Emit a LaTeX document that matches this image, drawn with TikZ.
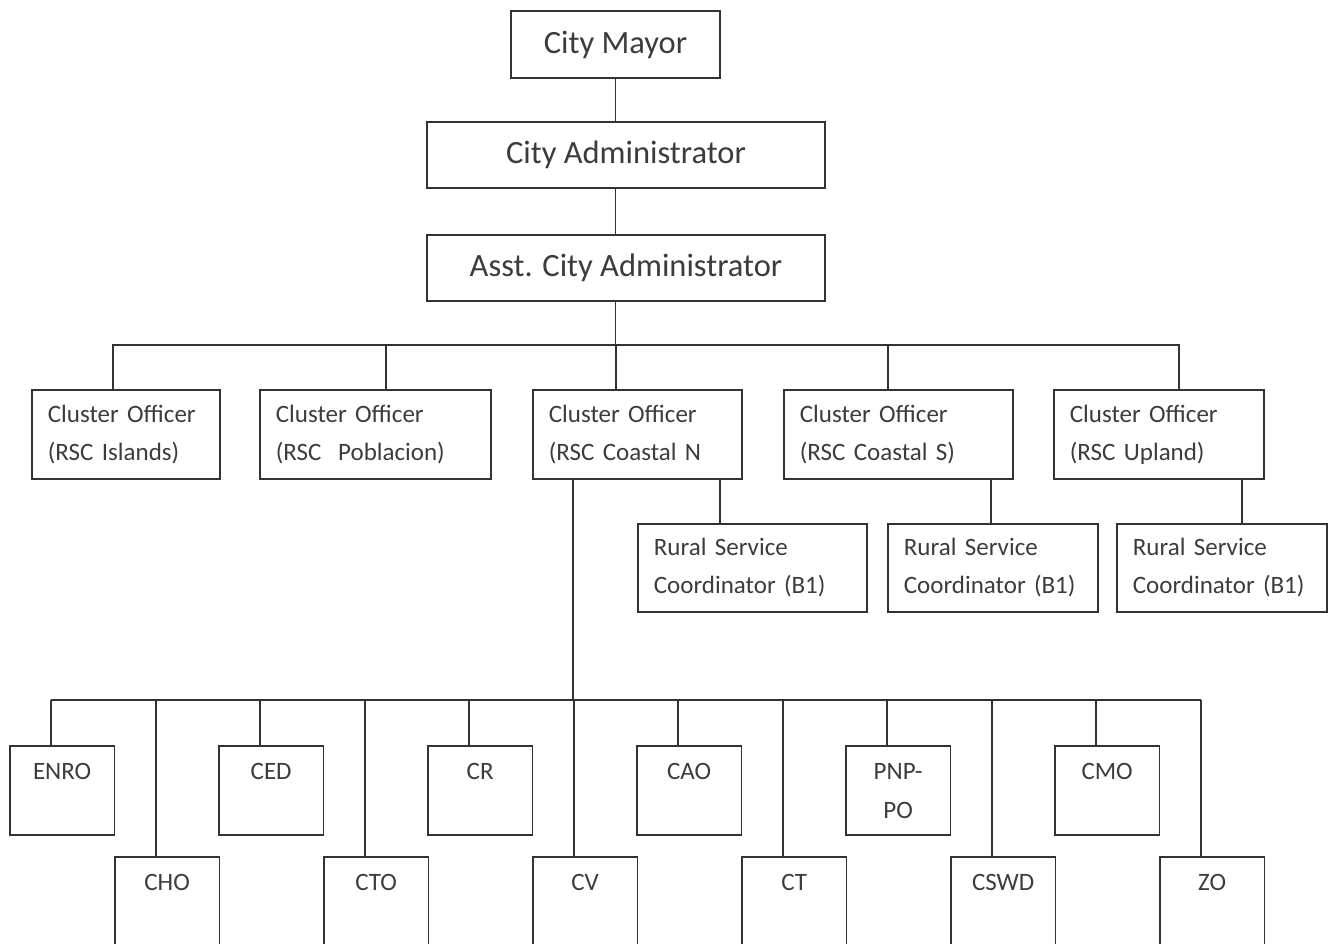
\documentclass[tikz,border=0pt]{standalone}
\usepackage{fontspec}
\setmainfont{Carlito}
\usetikzlibrary{positioning}
\definecolor{inkgray}{HTML}{3C3C3C}
\definecolor{linegray}{HTML}{333333}

\begin{document}
\begin{tikzpicture}[x=1pt,y=-1pt,
  link/.style={draw=linegray,line width=1.8pt},
  head/.style={draw=linegray,line width=1.8pt,text=inkgray,minimum height=66pt,font=\fontsize{32.5}{40}\selectfont},
  office/.style={draw=linegray,line width=1.8pt,text=inkgray,anchor=north west,align=left,inner xsep=16pt,text width=#1,minimum height=89pt,font=\fontsize{25}{38}\selectfont},
  dept/.style={draw=linegray,line width=1.8pt,text=inkgray,anchor=north west,inner sep=0pt,minimum width=104.5pt,text height=34pt,text depth=55pt,font=\fontsize{25}{39}\selectfont}]
  \fill[white] (0,0) rectangle (1331,944);
  \useasboundingbox (0,0) rectangle (1331,944);
  \clip (0,0) rectangle (1331,944);
  % top of the chart
  \node[head,minimum width=209pt,minimum height=67pt] (mayor) at (615.5,44.5) {City Mayor};
  \node[head,minimum width=398pt] (admin) at (626,155) {City Administrator};
  \node[head,minimum width=398pt,below=45pt of admin] (asst) {Asst. City Administrator};
  % cluster officers
  \node[office=156pt] (isl) at (31,389) {Cluster Officer\\(RSC Islands)};
  \node[office=199pt] (pob) at (259,389) {Cluster Officer\\(RSC\ \ Poblacion)};
  \node[office=177pt] (cn) at (532,389) {Cluster Officer\\(RSC Coastal N};
  \node[office=197pt] (cs) at (783,389) {Cluster Officer\\(RSC Coastal S)};
  \node[office=178pt] (up) at (1053,389) {Cluster Officer\\(RSC Upland)};
  % rural service coordinators
  \node[office=197pt,minimum height=88pt] (rsc1) at (637,523) {Rural Service\\Coordinator (B1)};
  \node[office=178pt,minimum height=88pt] (rsc2) at (887,523) {Rural Service\\Coordinator (B1)};
  \node[office=178pt,minimum height=88pt] (rsc3) at (1116,523) {Rural Service\\Coordinator (B1)};
  % connectors
  \coordinate (bus) at (615.5,345);
  \coordinate (hub) at (573,700);
  \draw[link] (mayor.south) -- (mayor.south |- admin.north);
  \draw[link] (mayor.south |- admin.south) -- (mayor.south |- asst.north);
  \draw[link] (mayor.south |- asst.south) -- (bus);
  \draw[link] (113,345 |- isl.north) |- (1179,345) -- (1179,345 |- up.north);
  \foreach \n/\x in {pob/386,cn/616,cs/888}
    \draw[link] (\x,345) -- (\x,345 |- \n.north);
  \draw[link] (720,0 |- cn.south) -- (720,0 |- rsc1.north);
  \draw[link] (991,0 |- cs.south) -- (991,0 |- rsc2.north);
  \draw[link] (1242,0 |- up.south) -- (1242,0 |- rsc3.north);
  \draw[link] (573,0 |- cn.south) -- (hub);
  % departments
  \foreach \t [count=\i from 0] in {ENRO,CED,CR,CAO,{\begin{tabular}[t]{@{}c@{}}PNP-\\PO\end{tabular}},CMO} {
    \node[dept] (top\i) at (9+209*\i,745) {\t};
    \draw[link] ([xshift=42pt]top\i.north west) -- ([xshift=42pt]top\i.north west |- hub);
  }
  \foreach \t [count=\i from 0] in {CHO,CTO,CV,CT,CSWD,ZO} {
    \node[dept] (low\i) at (114+209*\i,856) {\t};
    \draw[link] ([xshift=42pt]low\i.north west) -- ([xshift=42pt]low\i.north west |- hub);
  }
  \draw[link] ([xshift=42pt]top0.north west |- hub) -- ([xshift=42pt]low5.north west |- hub);
\end{tikzpicture}
\end{document}
